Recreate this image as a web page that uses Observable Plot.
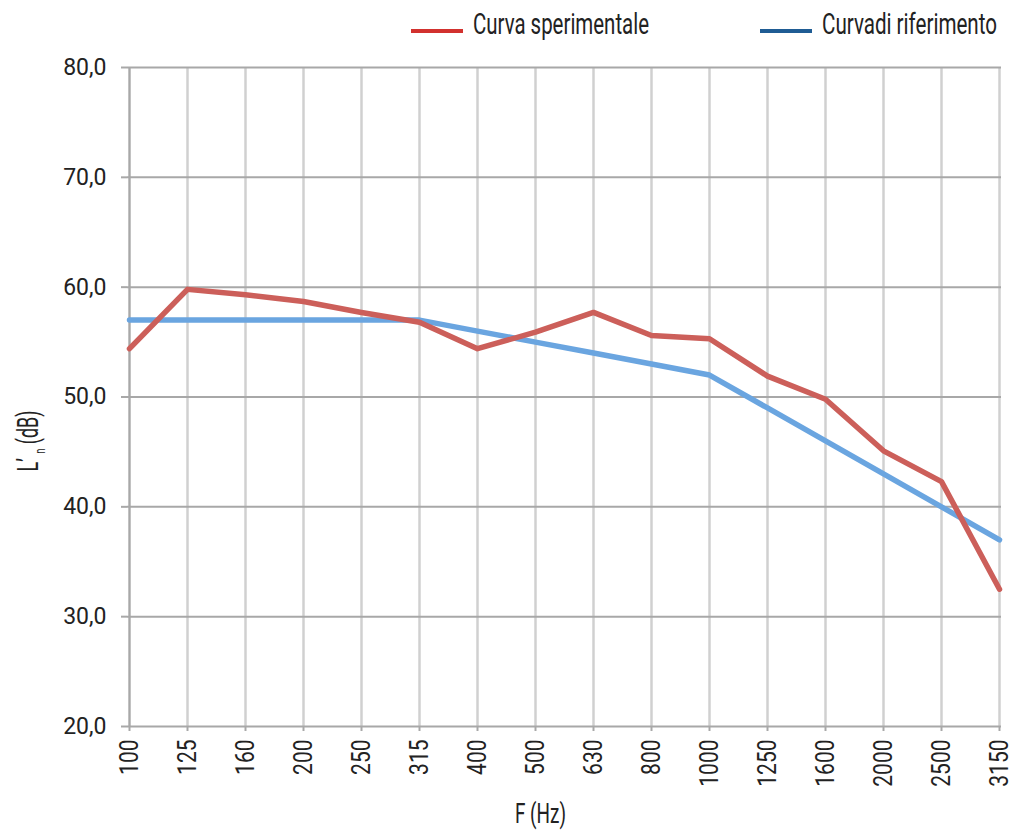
<!DOCTYPE html>
<html>
<head>
<meta charset="utf-8">
<script src="https://cdn.jsdelivr.net/npm/d3@7"></script>
<script src="https://cdn.jsdelivr.net/npm/@observablehq/plot@0.6"></script>
<style>
  body { margin: 0; background: #fff; }
  #legend { position: relative; width: 1015px; height: 50px; font-family: Roboto, sans-serif; font-weight: 400; font-size: 29px; color: #222; }
  .item { position: absolute; top: 7px; height: 36px; }
  .sw { position: absolute; left: 0; top: 22px; width: 52px; height: 4px; }
  .lbl { position: absolute; left: 62px; top: 0; white-space: nowrap; transform-origin: 0 0; }
  #chart svg { display: block; }
</style>
</head>
<body>
<div id="legend"></div>
<div id="chart"></div>
<script>
const frequencies = ["100","125","160","200","250","315","400","500","630","800","1000","1250","1600","2000","2500","3150"];
const sperimentale = [54.4, 59.8, 59.3, 58.7, 57.7, 56.8, 54.4, 55.9, 57.7, 55.6, 55.3, 51.9, 49.8, 45.1, 42.3, 32.5];
const riferimento = [57, 57, 57, 57, 57, 57, 56, 55, 54, 53, 52, 49, 46, 43, 40, 37];
const yTicks = [20, 30, 40, 50, 60, 70, 80];
const seriesNames = ["Curva sperimentale", "Curvadi riferimento"];
const legendColors = ["#d2312e", "#1f5c94"];
const lineColors = ["#cc5f5a", "#6aa5e0"];

const legend = document.getElementById("legend");
const legendX = [411, 760];
const legendTextWidth = [176, 175];
seriesNames.forEach((name, i) => {
  const it = document.createElement("div");
  it.className = "item";
  it.style.left = legendX[i] + "px";
  it.innerHTML = `<span class="sw" style="background:${legendColors[i]}"></span><span class="lbl">${name}</span>`;
  legend.appendChild(it);
  const lbl = it.querySelector(".lbl");
  const w = lbl.getBoundingClientRect().width;
  lbl.style.transform = `scaleX(${legendTextWidth[i] / w})`;
});

const rowsB = frequencies.map((f, i) => ({f, v: riferimento[i]}));
const rowsR = frequencies.map((f, i) => ({f, v: sperimentale[i]}));

const fmt = d => d.toFixed(1).replace(".", ",");

const chart = Plot.plot({
  width: 1015,
  height: 782,
  marginTop: 17,
  marginLeft: 127,
  marginRight: 14,
  marginBottom: 106,
  style: {background: "#fff", color: "#222"},
  x: {type: "point", domain: frequencies, padding: 0},
  y: {domain: [20, 80]},
  marks: [
    Plot.gridX(frequencies, {stroke: "#d0d0d0", strokeOpacity: 1, strokeWidth: 2.5}),
    Plot.gridY(yTicks, {stroke: "#a8a8a8", strokeOpacity: 1, strokeWidth: 2}),
    Plot.ruleX([frequencies[0]], {stroke: "#a8a8a8", strokeWidth: 2}),
    Plot.axisY(yTicks, {tickSize: 6, tickPadding: 15, stroke: "#a8a8a8", strokeWidth: 2, tickFormat: fmt, fontSize: 23, fontFamily: "Roboto, sans-serif", fontWeight: 400, fill: "#222",
      label: "L’ n (dB)", labelAnchor: "center", labelOffset: 110, labelArrow: "none"}),
    Plot.axisX(frequencies, {tickRotate: -90, tickSize: 5, tickPadding: 8, stroke: "#a8a8a8", strokeWidth: 2, fontSize: 25, fontFamily: "Roboto, sans-serif", fontWeight: 400, fill: "#222",
      label: "F (Hz)", labelAnchor: "center", labelOffset: 96, labelArrow: "none"}),
    Plot.line(rowsB, {x: "f", y: "v", stroke: lineColors[1], strokeWidth: 5.5}),
    Plot.line(rowsR, {x: "f", y: "v", stroke: lineColors[0], strokeWidth: 5.5})
  ]
});
document.getElementById("chart").appendChild(chart);

const svg = d3.select(chart);
// condensed look for x tick labels
svg.selectAll("g[aria-label='x-axis tick label'] text").each(function() {
  const t = this.getAttribute("transform") || "";
  this.setAttribute("transform", t + " scale(0.84,1)");
});
// axis labels
svg.selectAll("g[aria-label='x-axis label'] text").each(function() {
  const t = this.getAttribute("transform") || "";
  this.setAttribute("transform", t + " translate(-24,0) scale(0.7,1)");
  this.style.fontFamily = "Roboto, sans-serif";
  this.style.fontWeight = 400;
  this.style.fontSize = "27px";
  this.style.fill = "#222";
});
svg.selectAll("g[aria-label='y-axis label'] text").each(function() {
  const t = this.getAttribute("transform") || "";
  this.setAttribute("transform", t + " translate(-44,0) scale(0.62,1)");
  this.style.fontFamily = "Roboto, sans-serif";
  this.style.fontWeight = 400;
  this.style.fontSize = "29px";
  this.style.fill = "#222";
  const sel = d3.select(this);
  sel.text(null);
  sel.append("tspan").text("L’ ");
  sel.append("tspan").attr("dy", 7).style("font-size", "15px").text("n");
  sel.append("tspan").attr("dy", -7).text(" (dB)");
});
</script>
</body>
</html>
